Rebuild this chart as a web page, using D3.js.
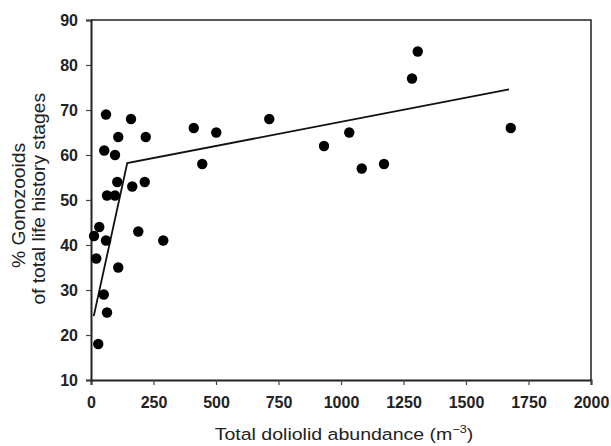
<!DOCTYPE html>
<html>
<head>
<meta charset="utf-8">
<script src="https://cdn.jsdelivr.net/npm/d3@7"></script>
<style>
  body { margin: 0; background: #fff; }
  svg text { font-family: "Liberation Sans", Arial, sans-serif; fill: #222; }
</style>
</head>
<body>
<svg id="chart" width="611" height="446"></svg>
<script>
// abundance (m^-3) and % gonozooids
const abundance = [60, 160, 53, 109, 219, 96, 105, 64, 96, 165, 215, 411, 501, 445, 713,
    33, 189, 12, 60, 289, 21, 109, 51, 64, 29,
    1307, 1284, 1033, 932, 1083, 1172, 1679];
const gonozooids = [69, 68, 61, 64, 64, 60, 54, 51, 51, 53, 54, 66, 65, 58, 68,
    44, 43, 42, 41, 41, 37, 35, 29, 25, 18,
    83, 77, 65, 62, 57, 58, 66];

// two-phase fitted line
const fitX = [11, 145, 1672];
const fitY = [24.2, 58.2, 74.6];

const xTicks = [0, 250, 500, 750, 1000, 1250, 1500, 1750, 2000];
const yTicks = [10, 20, 30, 40, 50, 60, 70, 80, 90];

const margin = {top: 20, right: 20, bottom: 66, left: 91};
const svg = d3.select('#chart');
const width = 611 - margin.left - margin.right,
    height = 446 - margin.top - margin.bottom;

const g = svg.append('g')
    .attr('transform', 'translate(' + margin.left + ',' + margin.top + ')');

const x = d3.scaleLinear().domain([0, 2000]).range([0, width]);
const y = d3.scaleLinear().domain([10, 90]).range([height, 0]);

// frame (top + right)
g.append('path')
    .attr('d', `M0,0H${width}V${height}`)
    .attr('fill', 'none')
    .attr('stroke', '#222')
    .attr('stroke-width', 1.5);

const xAxis = g.append('g')
    .attr('transform', `translate(0,${height})`)
    .call(d3.axisBottom(x).tickValues(xTicks).tickSize(5).tickPadding(12).tickFormat(d3.format('d')));
const yAxis = g.append('g')
    .call(d3.axisLeft(y).tickValues(yTicks).tickSize(5).tickPadding(8));

[xAxis, yAxis].forEach(a => {
    a.select('.domain').attr('stroke', '#222').attr('stroke-width', 2);
    a.selectAll('.tick line').attr('stroke', '#444').attr('stroke-width', 1.2);
    a.selectAll('text')
        .attr('font-size', '16px')
        .attr('font-weight', 'bold')
        .attr('fill', '#2a2a2a')
        .style('font-family', '"Liberation Sans", Arial, sans-serif');
});

// fitted line
const pts = fitX.map((d, i) => [d, fitY[i]]);
g.append('path')
    .attr('d', d3.line().x(d => x(d[0])).y(d => y(d[1]))(pts))
    .attr('fill', 'none')
    .attr('stroke', '#111')
    .attr('stroke-width', 1.8);

// points
g.selectAll('circle')
    .data(abundance.map((d, i) => ({a: d, p: gonozooids[i]})))
    .enter()
    .append('circle')
    .attr('cx', d => x(d.a))
    .attr('cy', d => y(d.p))
    .attr('r', 5.2)
    .attr('fill', '#000');

// axis titles (glyphs a little wider than Liberation Sans, hence the stretch)
const xt = svg.append('text')
    .attr('transform', 'translate(344,440) scale(1.15,1)')
    .attr('text-anchor', 'middle')
    .attr('font-size', '17px');
xt.append('tspan').text('Total doliolid abundance (m');
xt.append('tspan').attr('dy', -7).attr('font-size', '11px').text('\u22123');
xt.append('tspan').attr('dy', 7).text(')');

const yt = svg.append('g')
    .attr('transform', 'translate(0,201) rotate(-90) scale(1.1,1)');
yt.append('text')
    .attr('text-anchor', 'middle')
    .attr('font-size', '17.5px')
    .attr('x', -4).attr('y', 25)
    .text('% Gonozooids');
yt.append('text')
    .attr('text-anchor', 'middle')
    .attr('font-size', '17.5px')
    .attr('x', 2).attr('y', 45)
    .text('of total life history stages');
</script>
</body>
</html>
